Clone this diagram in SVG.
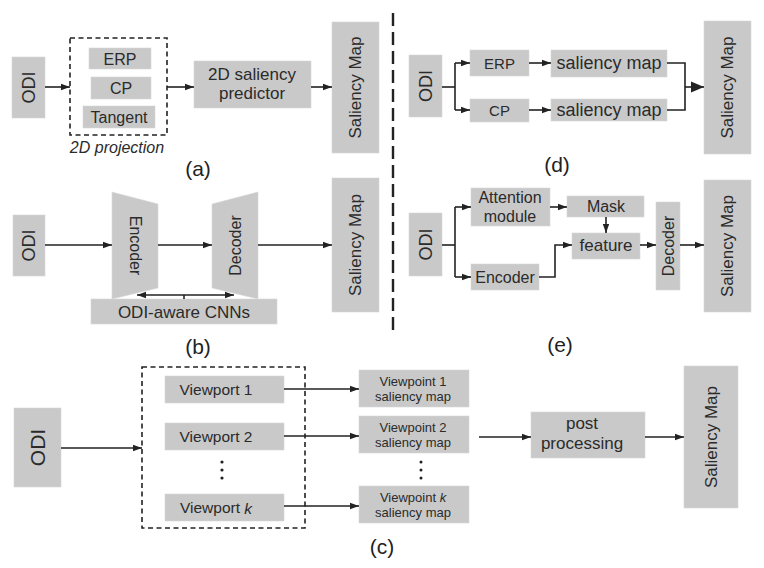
<svg xmlns="http://www.w3.org/2000/svg" width="764" height="568" viewBox="0 0 764 568">
<defs>
<marker id="ah" markerUnits="userSpaceOnUse" markerWidth="10" markerHeight="8" refX="9" refY="4" orient="auto">
<path d="M0,0.8 L9,4 L0,7.2 Z" fill="#222"/>
</marker>
<marker id="ahs" markerUnits="userSpaceOnUse" markerWidth="10" markerHeight="8" refX="9" refY="4" orient="auto-start-reverse">
<path d="M0,0.8 L9,4 L0,7.2 Z" fill="#222"/>
</marker>
<marker id="ahb" markerUnits="userSpaceOnUse" markerWidth="14" markerHeight="12" refX="13" refY="6" orient="auto">
<path d="M0,0.5 L13,6 L0,11.5 Z" fill="#222"/>
</marker>
</defs>
<style>
.b{fill:#c9c9c9;stroke:#d8d8d8;stroke-width:0.6}
.t{font-family:"Liberation Sans",Arial,sans-serif;fill:#2b2b2b;text-anchor:middle;dominant-baseline:central}
.tb{font-family:"Liberation Sans",Arial,sans-serif;fill:#2b2b2b;text-anchor:middle}
.c{fill:none;stroke:#222;stroke-width:1.6}
.a{marker-end:url(#ah)}
.dash{fill:none;stroke:#222;stroke-width:1.6;stroke-dasharray:5 3.5}
.lab{font-family:"Liberation Sans",Arial,sans-serif;fill:#222;text-anchor:middle;font-size:21px}
</style>
<rect width="764" height="568" fill="#fff"/>

<!-- divider -->
<line x1="393" y1="13" x2="393" y2="334" stroke="#222" stroke-width="2.4" stroke-dasharray="13 6"/>

<!-- (a) -->
<g id="a-odi"><rect class="b" x="12" y="57" width="33" height="61"/><text class="t" font-size="18" transform="translate(28.5,87.5) rotate(-90)">ODI</text></g>
<g id="a-proj"><rect class="dash" x="70" y="38" width="97" height="97"/><text class="tb" font-size="16" font-style="italic" x="117" y="153">2D projection</text></g>
<g id="a-erp"><rect class="b" x="89" y="48" width="62" height="21"/><text class="t" font-size="16" x="120" y="59">ERP</text></g>
<g id="a-cp"><rect class="b" x="91" y="77" width="60" height="22"/><text class="t" font-size="16" x="121" y="88">CP</text></g>
<g id="a-tan"><rect class="b" x="83" y="106" width="72" height="22"/><text class="t" font-size="16" x="119" y="117">Tangent</text></g>
<g id="a-pred"><rect class="b" x="194" y="61" width="117" height="47"/><text class="tb" font-size="17" x="252" y="80">2D saliency</text><text class="tb" font-size="17" x="252" y="99">predictor</text></g>
<g id="a-sal"><rect class="b" x="332" y="22" width="47" height="131"/><text class="t" font-size="17" transform="translate(355.5,87.5) rotate(-90)">Saliency Map</text></g>
<text class="lab" x="198" y="176">(a)</text>

<!-- (d) -->
<g id="d-odi"><rect class="b" x="409" y="55" width="33" height="62"/><text class="t" font-size="18" transform="translate(425.5,86) rotate(-90)">ODI</text></g>
<g id="d-erp"><rect class="b" x="470" y="50" width="59" height="26"/><text class="t" font-size="15" x="499.5" y="63">ERP</text></g>
<g id="d-cp"><rect class="b" x="470" y="99" width="59" height="23"/><text class="t" font-size="15" x="499.5" y="110.5">CP</text></g>
<g id="d-s1"><rect class="b" x="551" y="50" width="116" height="27"/><text class="t" font-size="18" x="609" y="63">saliency map</text></g>
<g id="d-s2"><rect class="b" x="551" y="99" width="116" height="22"/><text class="t" font-size="18" x="609" y="110">saliency map</text></g>
<g id="d-sal"><rect class="b" x="704" y="21" width="47" height="133"/><text class="t" font-size="17" transform="translate(727.5,87.5) rotate(-90)">Saliency Map</text></g>
<text class="lab" x="557" y="172">(d)</text>

<!-- (b) -->
<g id="b-odi"><rect class="b" x="13" y="215" width="32" height="61"/><text class="t" font-size="18" transform="translate(29,245.5) rotate(-90)">ODI</text></g>
<g id="b-enc"><polygon class="b" points="112,192 158,204 158,288 112,299"/><text class="t" font-size="16" transform="translate(135,245.5) rotate(90)">Encoder</text></g>
<g id="b-dec"><polygon class="b" points="212,204 258,192 258,299 212,288"/><text class="t" font-size="16" transform="translate(235,245.5) rotate(-90)">Decoder</text></g>
<g id="b-sal"><rect class="b" x="332" y="178" width="47" height="134"/><text class="t" font-size="17" transform="translate(355.5,245) rotate(-90)">Saliency Map</text></g>
<g id="b-cnn"><rect class="b" x="91" y="299" width="186" height="25"/><text class="t" font-size="17" x="184" y="312">ODI-aware CNNs</text></g>
<text class="lab" x="198" y="354">(b)</text>

<!-- (e) -->
<g id="e-odi"><rect class="b" x="409" y="213" width="33" height="63"/><text class="t" font-size="18" transform="translate(425.5,244.5) rotate(-90)">ODI</text></g>
<g id="e-att"><rect class="b" x="471" y="188" width="79" height="38"/><text class="tb" font-size="16" x="510" y="203">Attention</text><text class="tb" font-size="16" x="510" y="222">module</text></g>
<g id="e-mask"><rect class="b" x="567" y="196" width="77" height="21"/><text class="t" font-size="16" x="606" y="206.5">Mask</text></g>
<g id="e-feat"><rect class="b" x="572" y="233" width="68" height="26"/><text class="t" font-size="17" x="606" y="245.5">feature</text></g>
<g id="e-enc"><rect class="b" x="471" y="264" width="68" height="26"/><text class="t" font-size="16" x="505" y="277">Encoder</text></g>
<g id="e-dec"><rect class="b" x="656" y="202" width="24" height="88"/><text class="t" font-size="16" transform="translate(668,246) rotate(-90)">Decoder</text></g>
<g id="e-sal"><rect class="b" x="704" y="180" width="47" height="132"/><text class="t" font-size="17" transform="translate(727.5,246) rotate(-90)">Saliency Map</text></g>
<text class="lab" x="560" y="352">(e)</text>

<!-- (c) -->
<g id="c-odi"><rect class="b" x="14" y="408" width="47" height="79"/><text class="t" font-size="21" transform="translate(37.5,447.5) rotate(-90)">ODI</text></g>
<g id="c-box"><rect class="dash" x="142" y="367" width="163" height="161"/></g>
<g id="c-v1"><rect class="b" x="165" y="376" width="119" height="27"/><text class="t" font-size="15.5" x="216" y="389.5">Viewport 1</text></g>
<g id="c-v2"><rect class="b" x="165" y="423" width="119" height="27"/><text class="t" font-size="15.5" x="216" y="436.5">Viewport 2</text></g>
<g id="c-vk"><rect class="b" x="165" y="494" width="119" height="27"/><text class="t" font-size="15.5" x="216" y="507.5">Viewport <tspan font-style="italic">k</tspan></text></g>
<g id="c-dots1" fill="#222"><circle cx="222" cy="462" r="1.6"/><circle cx="222" cy="470" r="1.6"/><circle cx="222" cy="478" r="1.6"/></g>
<g id="c-p1"><rect class="b" x="359" y="370" width="110" height="37"/><text class="tb" font-size="13" x="413" y="386">Viewpoint 1</text><text class="tb" font-size="13" x="413" y="401">saliency map</text></g>
<g id="c-p2"><rect class="b" x="359" y="416" width="110" height="37"/><text class="tb" font-size="13" x="413" y="432">Viewpoint 2</text><text class="tb" font-size="13" x="413" y="447">saliency map</text></g>
<g id="c-pk"><rect class="b" x="359" y="486" width="110" height="37"/><text class="tb" font-size="13" x="413" y="502">Viewpoint <tspan font-style="italic">k</tspan></text><text class="tb" font-size="13" x="413" y="517">saliency map</text></g>
<g id="c-dots2" fill="#222"><circle cx="421" cy="462" r="1.5"/><circle cx="421" cy="470" r="1.5"/><circle cx="421" cy="478" r="1.5"/></g>
<g id="c-post"><rect class="b" x="531" y="412" width="114" height="46"/><text class="tb" font-size="17" x="582" y="429">post</text><text class="tb" font-size="17" x="582" y="449">processing</text></g>
<g id="c-sal"><rect class="b" x="684" y="366" width="54" height="142"/><text class="t" font-size="17" transform="translate(711,437) rotate(-90)">Saliency Map</text></g>
<text class="lab" x="382" y="554">(c)</text>

<!-- connectors -->
<g id="connectors">
<line class="c a" x1="45" y1="87" x2="70" y2="87"/>
<line class="c a" x1="167" y1="87" x2="194" y2="87"/>
<line class="c a" x1="311" y1="87" x2="332" y2="87"/>

<polyline class="c" points="442,87 455,87"/>
<line class="c" x1="455" y1="63" x2="455" y2="110"/>
<line class="c a" x1="455" y1="63" x2="470" y2="63"/>
<line class="c a" x1="455" y1="110" x2="470" y2="110"/>
<line class="c a" x1="529" y1="63" x2="551" y2="63"/>
<line class="c a" x1="529" y1="110" x2="551" y2="110"/>
<polyline class="c" points="667,63 685,63 685,110 667,110"/>
<line class="c" x1="685" y1="87" x2="704" y2="87" marker-end="url(#ahb)"/>

<line class="c a" x1="45" y1="245" x2="112" y2="245"/>
<line class="c a" x1="158" y1="245" x2="212" y2="245"/>
<line class="c a" x1="258" y1="245" x2="332" y2="245"/>
<line class="c" x1="137" y1="295" x2="234" y2="295" marker-start="url(#ahs)" marker-end="url(#ahs)"/>
<line class="c" x1="184" y1="295" x2="184" y2="299"/>

<line class="c" x1="442" y1="245" x2="455" y2="245"/>
<line class="c" x1="455" y1="207" x2="455" y2="277"/>
<line class="c a" x1="455" y1="207" x2="471" y2="207"/>
<line class="c a" x1="455" y1="277" x2="471" y2="277"/>
<line class="c a" x1="550" y1="207" x2="567" y2="207"/>
<line class="c a" x1="606" y1="217" x2="606" y2="233"/>
<polyline class="c a" points="539,277 555,277 555,245 572,245"/>
<line class="c a" x1="640" y1="245" x2="656" y2="245"/>
<line class="c a" x1="680" y1="245" x2="704" y2="245"/>

<line class="c a" x1="61" y1="448" x2="142" y2="448"/>
<line class="c a" x1="284" y1="389" x2="359" y2="389"/>
<line class="c a" x1="284" y1="436" x2="359" y2="436"/>
<line class="c a" x1="284" y1="506" x2="359" y2="506"/>
<line class="c a" x1="479" y1="437" x2="531" y2="437"/>
<line class="c a" x1="645" y1="437" x2="684" y2="437"/>
</g>
</svg>
